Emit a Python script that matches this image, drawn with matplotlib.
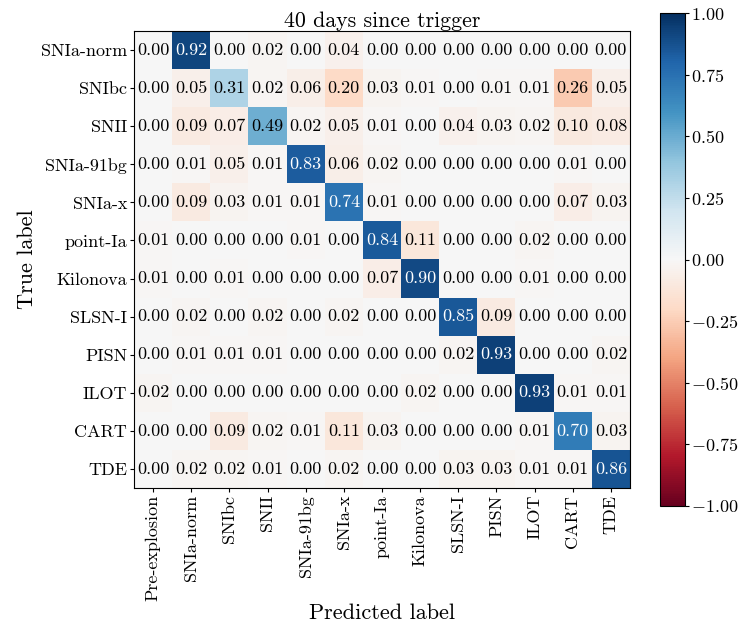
import numpy as np
import matplotlib
matplotlib.use('Agg')
import matplotlib.pyplot as plt

plt.rcParams['font.family'] = 'serif'
plt.rcParams['font.serif'] = ['cmr10', 'DejaVu Serif']
plt.rcParams['mathtext.fontset'] = 'cm'
plt.rcParams['axes.formatter.use_mathtext'] = True

true_labels = ['SNIa-norm', 'SNIbc', 'SNII', 'SNIa-91bg', 'SNIa-x', 'point-Ia',
               'Kilonova', 'SLSN-I', 'PISN', 'ILOT', 'CART', 'TDE']
pred_labels = ['Pre-explosion'] + true_labels
title = '40 days since trigger'

# rows: true class, columns: predicted class (first column is Pre-explosion)
cm = np.array([
    [0.00, 0.92, 0.00, 0.02, 0.00, 0.04, 0.00, 0.00, 0.00, 0.00, 0.00, 0.00, 0.00],
    [0.00, 0.05, 0.31, 0.02, 0.06, 0.20, 0.03, 0.01, 0.00, 0.01, 0.01, 0.26, 0.05],
    [0.00, 0.09, 0.07, 0.49, 0.02, 0.05, 0.01, 0.00, 0.04, 0.03, 0.02, 0.10, 0.08],
    [0.00, 0.01, 0.05, 0.01, 0.83, 0.06, 0.02, 0.00, 0.00, 0.00, 0.00, 0.01, 0.00],
    [0.00, 0.09, 0.03, 0.01, 0.01, 0.74, 0.01, 0.00, 0.00, 0.00, 0.00, 0.07, 0.03],
    [0.01, 0.00, 0.00, 0.00, 0.01, 0.00, 0.84, 0.11, 0.00, 0.00, 0.02, 0.00, 0.00],
    [0.01, 0.00, 0.01, 0.00, 0.00, 0.00, 0.07, 0.90, 0.00, 0.00, 0.01, 0.00, 0.00],
    [0.00, 0.02, 0.00, 0.02, 0.00, 0.02, 0.00, 0.00, 0.85, 0.09, 0.00, 0.00, 0.00],
    [0.00, 0.01, 0.01, 0.01, 0.00, 0.00, 0.00, 0.00, 0.02, 0.93, 0.00, 0.00, 0.02],
    [0.02, 0.00, 0.00, 0.00, 0.00, 0.00, 0.00, 0.02, 0.00, 0.00, 0.93, 0.01, 0.01],
    [0.00, 0.00, 0.09, 0.02, 0.01, 0.11, 0.03, 0.00, 0.00, 0.00, 0.01, 0.70, 0.03],
    [0.00, 0.02, 0.02, 0.01, 0.00, 0.02, 0.00, 0.00, 0.03, 0.03, 0.01, 0.01, 0.86],
])

# correct predictions plotted positive (blue), misclassifications negative (red)
nrows, ncols = cm.shape
cm_plot = -cm.copy()
for i in range(nrows):
    cm_plot[i, i + 1] = cm[i, i + 1]

fig = plt.figure(figsize=(7.41, 6.26), dpi=100)
ax = fig.add_axes([134/741, 1 - 488/626, 496/741, 457/626])
cax = fig.add_axes([660/741, 1 - 506/626, 25/741, 493/626])

im = ax.imshow(cm_plot, cmap='RdBu', vmin=-1, vmax=1, aspect='auto',
               interpolation='nearest')
cb = fig.colorbar(im, cax=cax, ticks=[-1, -0.75, -0.5, -0.25, 0, 0.25, 0.5, 0.75, 1])
cb.ax.set_yticklabels(['$-1.00$', '$-0.75$', '$-0.50$', '$-0.25$', '$0.00$',
                       '$0.25$', '$0.50$', '$0.75$', '$1.00$'])
cb.ax.tick_params(labelsize=13, length=3, pad=1)

for i in range(nrows):
    for j in range(ncols):
        val = cm[i, j]
        ax.text(j, i, '{0:.2f}'.format(val), ha='center', va='center',
                fontsize=13, color='white' if val > 0.5 else 'black')

ax.set_xticks(np.arange(ncols))
ax.set_xticklabels(pred_labels, rotation=90, fontsize=13)
ax.set_yticks(np.arange(nrows))
ax.set_yticklabels(true_labels, fontsize=13)
ax.tick_params(length=3, pad=2)
ax.set_xlabel('Predicted label', fontsize=16, labelpad=2)
ax.set_ylabel('True label', fontsize=16, labelpad=3)
ax.set_title(title, fontsize=15.8, pad=3)

fig.savefig('out.png', dpi=100)
